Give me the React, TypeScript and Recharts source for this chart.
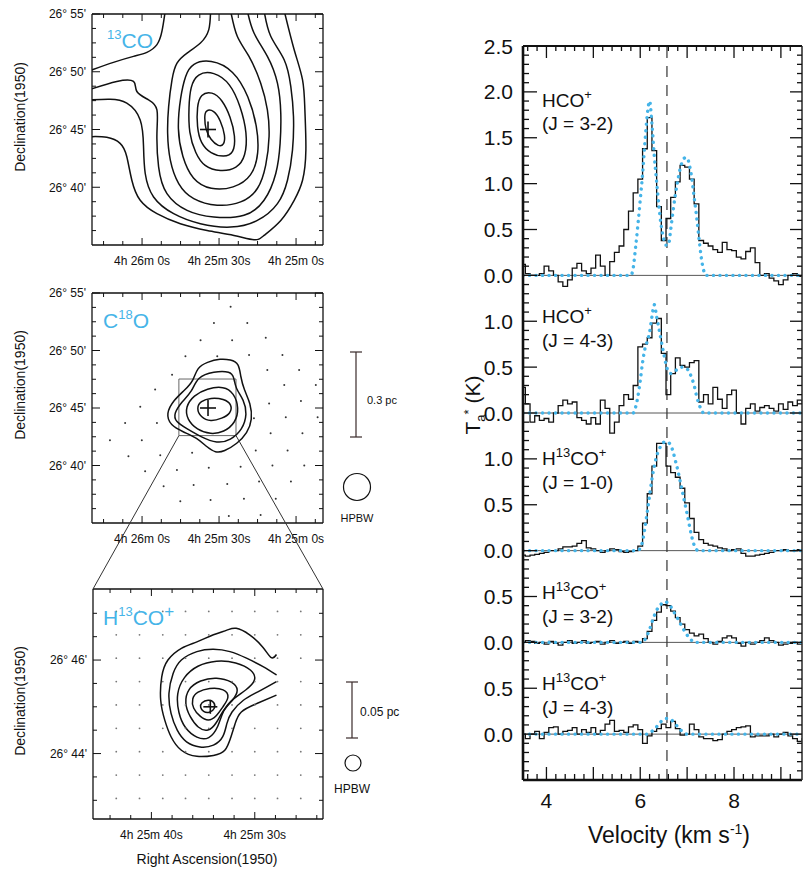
import React from 'react';
import { ComposedChart, Line, Scatter, XAxis, YAxis, ReferenceLine, ReferenceArea } from 'recharts';

const FONT = '"Liberation Sans", Arial, Helvetica, sans-serif';
const BLUE = '#45b4e8';
const INK = '#111';

// ================= SPECTRA (right panel) =================
const VEL = [3.5,3.6,3.7,3.8,3.9,4.0,4.1,4.2,4.3,4.4,4.5,4.6,4.7,4.8,4.9,5.0,5.1,5.2,5.3,5.4,5.5,5.6,5.7,5.8,5.9,6.0,6.1,6.2,6.3,6.4,6.5,6.6,6.7,6.8,6.9,7.0,7.1,7.2,7.3,7.4,7.5,7.6,7.7,7.8,7.9,8.0,8.1,8.2,8.3,8.4,8.5,8.6,8.7,8.8,8.9,9.0,9.1,9.2,9.3,9.4,9.5];

const HCO_32 = [0.12,0.02,0.0,0.0,0.02,0.10,0.05,0.0,-0.07,-0.12,
  -0.05,0.08,0.13,0.05,0.02,0.08,0.22,0.10,0.0,0.15,
  0.25,0.32,0.5,0.7,0.9,1.05,1.38,1.72,1.36,0.75,
  0.38,0.62,0.85,1.02,1.2,1.18,1.05,0.78,0.38,0.35,
  0.32,0.28,0.25,0.36,0.28,0.27,0.2,0.18,0.26,0.3,
  0.14,0.0,0.02,-0.03,-0.06,-0.1,-0.05,0.0,0.02,-0.01,
  0.0];
const HCO_43 = [0.28,0.1,-0.1,-0.03,-0.08,-0.06,-0.1,0.0,0.08,0.14,
  0.1,0.12,-0.05,-0.08,-0.12,-0.05,-0.12,0.14,0.05,-0.22,
  -0.1,0.08,0.2,0.15,0.3,0.72,0.75,0.82,0.98,1.03,
  0.65,0.2,0.43,0.6,0.52,0.5,0.55,0.57,0.12,0.2,
  0.1,0.28,0.15,0.05,0.2,0.25,0.0,-0.12,0.05,0.1,
  0.02,0.06,0.08,0.05,0.02,0.1,0.04,0.12,0.08,0.14,
  0.12];
const H13CO_10 = [-0.05,-0.06,-0.05,-0.04,-0.03,-0.02,0.0,0.0,0.02,0.04,
  0.04,0.05,0.08,0.11,0.03,0.02,0.0,-0.02,0.0,0.02,
  0.01,-0.01,-0.02,-0.01,0.0,0.05,0.3,0.62,0.92,1.17,
  1.17,0.92,0.85,0.8,0.68,0.52,0.35,0.2,0.12,0.08,
  0.06,0.05,0.03,0.02,0.0,0.01,0.02,-0.03,-0.06,-0.06,
  -0.05,-0.04,-0.03,-0.02,0.0,0.0,0.01,0.0,0.0,0.01,
  0.0];
const H13CO_32 = [0.0,0.02,0.01,-0.01,0.0,-0.02,0.01,-0.01,-0.03,0.0,
  0.02,-0.01,0.0,0.02,-0.01,0.0,0.01,-0.02,0.0,0.02,
  -0.01,0.0,0.01,-0.01,0.01,0.0,0.04,0.12,0.24,0.33,
  0.41,0.40,0.34,0.27,0.2,0.14,0.1,0.07,0.09,0.04,
  0.0,-0.02,0.01,0.05,0.07,0.05,-0.01,-0.04,0.0,-0.02,
  0.0,0.02,0.05,0.02,0.0,-0.03,-0.02,-0.01,0.0,-0.02,
  0.0];
const H13CO_43 = [0.0,-0.05,0.0,0.03,-0.05,0.02,0.07,0.08,0.0,0.03,
  0.04,0.07,0.0,0.05,0.02,0.07,0.0,0.04,0.11,0.15,
  0.03,0.04,0.02,0.08,0.1,0.05,-0.1,-0.02,0.03,0.06,
  0.11,0.07,0.14,0.06,-0.01,0.0,0.11,0.05,-0.03,-0.05,
  -0.05,-0.07,-0.06,0.0,0.03,0.05,0.07,0.08,0.09,-0.03,
  -0.02,-0.02,-0.02,0.0,-0.03,0.0,0.02,-0.02,-0.05,-0.08,
  -0.05];

const FIT_HCO_32: [number, number][] = [[3.5,0],[5.8,0],[5.85,0.08],[5.9,0.3],[5.95,0.55],[6.0,0.82],[6.05,1.1],[6.1,1.45],[6.15,1.75],[6.2,1.9],[6.25,1.65],[6.3,1.3],[6.35,1.02],[6.4,0.75],[6.45,0.53],[6.5,0.4],[6.55,0.33],[6.6,0.33],[6.65,0.5],[6.7,0.7],[6.75,0.88],[6.8,1.03],[6.85,1.16],[6.9,1.24],[6.95,1.28],[7.0,1.28],[7.05,1.2],[7.1,1.06],[7.15,0.85],[7.2,0.65],[7.25,0.42],[7.3,0.2],[7.35,0.06],[7.4,0],[9.5,0]];
const FIT_HCO_43: [number, number][] = [[3.5,0],[5.85,0],[5.9,0.06],[5.95,0.18],[6.0,0.35],[6.05,0.55],[6.1,0.7],[6.15,0.78],[6.2,0.88],[6.25,1.05],[6.3,1.18],[6.35,1.05],[6.4,0.92],[6.45,0.78],[6.5,0.65],[6.55,0.53],[6.6,0.45],[6.65,0.43],[6.7,0.44],[6.8,0.48],[6.9,0.5],[7.0,0.48],[7.1,0.38],[7.15,0.3],[7.2,0.19],[7.25,0.1],[7.3,0.04],[7.35,0],[9.5,0]];
const FIT_H13CO_10: [number, number][] = [[3.5,0],[5.95,0],[6.0,0.03],[6.05,0.1],[6.1,0.25],[6.15,0.42],[6.2,0.6],[6.25,0.78],[6.3,0.92],[6.35,1.03],[6.4,1.1],[6.45,1.15],[6.5,1.18],[6.55,1.19],[6.6,1.18],[6.65,1.15],[6.7,1.08],[6.75,0.98],[6.8,0.88],[6.85,0.76],[6.9,0.64],[6.95,0.52],[7.0,0.4],[7.05,0.27],[7.1,0.15],[7.15,0.06],[7.2,0.01],[7.25,0],[9.5,0]];
const FIT_H13CO_32: [number, number][] = [[3.5,0],[6.05,0],[6.1,0.03],[6.15,0.08],[6.2,0.14],[6.25,0.22],[6.3,0.29],[6.35,0.35],[6.4,0.39],[6.45,0.42],[6.5,0.44],[6.55,0.44],[6.6,0.42],[6.65,0.39],[6.7,0.35],[6.75,0.3],[6.8,0.26],[6.85,0.21],[6.9,0.16],[6.95,0.12],[7.0,0.08],[7.05,0.05],[7.1,0.02],[7.15,0],[9.5,0]];
const FIT_H13CO_43: [number, number][] = [[3.5,0],[6.15,0],[6.2,0.01],[6.25,0.03],[6.3,0.05],[6.35,0.08],[6.4,0.11],[6.45,0.14],[6.5,0.16],[6.55,0.17],[6.6,0.17],[6.65,0.16],[6.7,0.14],[6.75,0.11],[6.8,0.08],[6.85,0.05],[6.9,0.03],[6.95,0.01],[7.0,0],[9.5,0]];

const SPECTRA = [HCO_32, HCO_43, H13CO_10, H13CO_32, H13CO_43];
const FITS = [FIT_HCO_32, FIT_HCO_43, FIT_H13CO_10, FIT_H13CO_32, FIT_H13CO_43];
const SPEC_OFFSETS = [5, 3.5, 2, 1, 0];
const V_SYS = 6.57;
const V_LABELED = [4, 6, 8];
const V_MAJOR = [4, 5, 6, 7, 8, 9];

// ================= MAPS (left panels) =================
type P = [number, number];
// 13CO  (x: RA seconds after 4h25m, y: Dec arcmin after 26deg)
const CO13_CLOSED: P[][] = [
  [[35.3,46.7],[32.0,46.7],[29.4,45.8],[27.5,44.4],[28.1,43.65],[30.1,43.5],[33.3,44.1],[35.3,45.0],[35.7,46.1]],
  [[37.2,48.1],[32.7,48.3],[28.8,47.6],[25.5,46.1],[23.6,44.4],[24.2,42.9],[28.1,42.6],[33.3,42.9],[37.2,43.8],[38.6,45.2],[38.6,47.0]],
  [[38.55,49.88],[32.03,50.03],[25.51,49.01],[21.6,46.99],[18.99,44.67],[19.64,42.64],[22.9,41.62],[29.42,41.33],[35.94,41.77],[39.2,42.93],[41.81,44.67],[41.81,46.99],[41.16,48.72]],
  [[40.51,50.75],[33.33,51.1],[24.21,50.17],[18.34,47.86],[15.08,45.25],[14.42,42.93],[17.03,40.9],[24.21,39.89],[33.33,39.74],[40.51,40.61],[44.42,42.64],[46.38,44.96],[45.07,47.86],[43.11,49.74]],
];
const CO13_OPEN: P[][] = [
  [[33.3,55.3],[34.0,53.65],[37.25,52.49],[42.46,51.62],[46.38,50.75],[48.33,49.3],[49.64,46.98],[50.03,44.67],[48.98,42.35],[45.72,40.32],[39.85,39.02],[30.73,38.45],[21.6,38.73],[15.08,39.89],[11.82,41.92],[10.51,44.39],[11.17,46.7],[13.77,49.01],[18.34,51.33],[22.9,53.07],[25.51,55.3]],
  [[19.0,55.3],[16.38,53.36],[11.17,51.33],[7.25,49.01],[5.95,46.41],[6.21,43.8],[7.9,41.19],[12.47,38.87],[20.29,37.57],[32.03,37.42],[42.46,38.0],[50.29,39.45],[53.55,41.77],[54.2,44.67],[54.2,46.7],[57.46,47.57],[62.02,48.29],[63.33,49.16],[69.85,49.16],[80.0,48.49]],
  [[12.47,55.3],[9.86,53.07],[4.64,51.04],[2.04,48.72],[1.0,46.12],[1.39,43.22],[3.34,40.61],[7.25,38.58],[15.08,37.13],[25.51,36.55],[37.25,36.84],[47.68,37.71],[55.5,39.16],[58.76,41.19],[59.42,43.51],[60.72,45.83],[65.94,47.28],[72.46,47.62],[80.0,47.57]],
  [[4.64,55.3],[0.73,51.91],[-2.53,49.3],[-3.44,46.7],[-3.83,43.22],[-2.53,40.61],[0.73,38.87],[5.95,37.13],[12.47,35.83],[16.38,35.45],[24.21,35.83],[34.64,36.26],[45.07,36.84],[54.2,37.71],[60.72,38.87],[63.98,40.61],[65.94,42.64],[68.55,43.8],[73.76,44.32],[80.0,44.38]],
  [[80.0,50.12],[71.15,50.81],[63.33,51.33],[58.11,51.68],[54.2,52.35],[52.24,53.51],[50.94,55.3]],
];
// C18O
const C18O_CLOSED: P[][] = [
  [[50.7,44.5],[47.7,45.7],[43.1,46.6],[39.9,47.4],[38.6,48.5],[34.7,49.0],[29.4,49.3],[25.5,49.2],[22.2,48.9],[21.6,47.7],[20.3,46.6],[17.7,45.4],[17.0,44.0],[19.0,42.8],[22.9,41.9],[28.1,41.2],[31.4,41.1],[34.7,41.6],[38.6,42.4],[43.8,42.9],[49.0,43.5]],
  [[47.7,44.5],[44.4,45.6],[40.5,46.4],[38.6,47.7],[32.0,48.2],[25.5,48.2],[24.2,47.7],[23.6,46.7],[20.3,45.7],[19.0,44.5],[20.9,43.1],[25.5,42.2],[30.7,41.9],[37.2,42.5],[42.5,43.2],[47.0,43.8]],
  [[43.1,45.1],[39.9,46.1],[34.7,46.7],[28.1,46.9],[24.2,46.3],[22.2,45.0],[23.6,43.7],[28.1,42.9],[33.3,42.7],[38.6,43.1],[42.5,44.0]],
  [[38.8,45.0],[37.2,45.6],[33.3,45.9],[28.1,45.8],[24.9,45.3],[25.5,44.5],[28.8,44.1],[33.3,43.8],[37.2,44.2]],
];
const C18O_POSITIONS: P[] = [[25.5,53.8],[32.0,52.4],[19.0,52.4],[37.2,50.9],[24.9,50.9],[11.8,51.1],[43.1,49.5],[30.7,49.5],[18.3,49.6],[5.3,49.6],[48.3,47.9],[11.2,48.3],[-1.2,48.3],[54.9,46.6],[4.6,47.0],[-7.7,47.0],[60.7,45.1],[10.5,45.4],[-1.9,45.6],[66.6,43.7],[54.2,43.7],[16.4,44.1],[4.0,44.2],[-8.4,44.2],[72.5,42.2],[60.1,42.2],[9.9,42.8],[-2.5,42.8],[65.3,40.8],[52.9,40.9],[40.5,41.1],[15.7,41.3],[3.3,41.3],[58.8,39.5],[46.4,39.6],[34.0,39.8],[21.6,39.9],[9.2,40.0],[-3.2,40.0],[51.6,38.2],[39.9,38.3],[26.8,38.4],[14.4,38.6],[2.0,38.6],[45.1,36.9],[33.3,37.0],[20.3,37.1],[7.9,37.1],[26.2,35.6],[13.8,35.7]];
// H13CO+
const H13_CLOSED: P[][] = [
  [[35.6,45.89],[33.7,46.0],[31.8,45.96],[30.2,45.79],[29.8,45.57],[30.8,45.36],[32.1,45.18],[33.1,44.93],[33.5,44.57],[34.4,44.29],[35.6,44.32],[36.8,44.54],[37.4,44.86],[37.6,45.29],[36.9,45.64]],
  [[35.3,45.57],[33.7,45.64],[32.1,45.54],[31.5,45.36],[32.1,45.14],[33.1,44.93],[33.7,44.64],[34.5,44.46],[35.5,44.54],[36.3,44.79],[36.8,45.07],[36.5,45.39]],
  [[35.6,45.32],[34.4,45.41],[32.9,45.39],[32.4,45.21],[33.1,45.0],[33.7,44.79],[34.5,44.68],[35.3,44.79],[36.0,44.96],[36.1,45.18]],
  [[35.2,45.09],[34.5,45.16],[33.9,45.11],[33.8,44.96],[34.4,44.86],[35.0,44.89],[35.3,44.99]],
];
const H13_OPEN: P[][] = [
  [[27.9,46.12],[28.4,46.05],[29.2,46.27],[30.5,46.54],[31.8,46.68],[32.7,46.64],[34.0,46.54],[35.6,46.39],[37.1,46.25],[38.4,46.0],[39.0,45.64],[39.1,45.14],[38.7,44.71],[38.1,44.36],[37.1,44.07],[35.6,43.94],[34.0,43.96],[32.9,44.07],[32.3,44.36],[31.9,44.64],[31.3,44.89],[29.8,45.07],[27.9,45.25]],
  [[27.9,45.68],[29.2,45.86],[30.8,46.04],[32.4,46.18],[34.0,46.23],[35.6,46.18],[37.1,46.0],[37.9,45.71],[38.3,45.29],[38.1,44.86],[37.5,44.5],[36.6,44.25],[35.3,44.14],[34.0,44.18],[33.1,44.36],[32.7,44.64],[32.2,44.89],[31.1,45.14],[29.7,45.32],[27.9,45.54]],
];
const H13_GRID_RA = [43.4, 41.15, 38.9, 36.7, 34.45, 32.2, 30.0, 27.8, 25.55];
const H13_GRID_DEC = [47.04, 46.54, 46.04, 45.54, 45.04, 44.54, 44.04, 43.54, 43.04];
const PEAK: P = [34.3, 45.0];

// ================= helpers =================
type Side = 'bottom' | 'top' | 'left' | 'right';
function makeTick(side: Side, majors: number[], majorLen: number, minorLen: number,
  fmt: (v: number) => string, fontSize: number, gap: number, lw = 1) {
  return function TickMark(props: any) {
    const { x, y, payload } = props;
    const v = Number(payload?.value);
    const isMajor = majors.some((m) => Math.abs(m - v) < 1e-6);
    const len = isMajor ? majorLen : minorLen;
    const label = isMajor ? fmt(v) : '';
    let x2 = x, y2 = y;
    if (side === 'bottom') y2 = y - len;
    if (side === 'top') y2 = y + len;
    if (side === 'left') x2 = x + len;
    if (side === 'right') x2 = x - len;
    let text: any = null;
    if (label && side === 'bottom') {
      text = <text x={x} y={y + gap} textAnchor="middle" fontSize={fontSize} fontFamily={FONT} fill={INK}>{label}</text>;
    }
    if (label && side === 'left') {
      text = <text x={x - gap} y={y + fontSize * 0.36} textAnchor="end" fontSize={fontSize} fontFamily={FONT} fill={INK}>{label}</text>;
    }
    return <g><line x1={x} y1={y} x2={x2} y2={y2} stroke={INK} strokeWidth={lw} />{text}</g>;
  };
}
const none = () => '';
const toPts = (a: P[]) => a.map(([x, y]) => ({ x, y }));
const raFmt = (s: number) => `4h ${25 + Math.floor(s / 60)}m ${((s % 60) + 60) % 60}s`;
const decFmt = (d: number) => `26\u00b0 ${d}'`;

function MapPanel(props: any) {
  const { top, height, margin, xDomain, yDomain, xTicks, xMajors, yTicks, yMajors,
    closed, open, dots, dotColor, dotR, crossArm, rect } = props;
  const common = { tickLine: false, tickSize: 0, tickMargin: 0, interval: 0 as const, allowDataOverflow: true };
  const frame = { stroke: INK, strokeWidth: 1.3 };
  return (
    <div style={{ position: 'absolute', left: 0, top, width: 340, height }}>
      <ComposedChart width={340} height={height} margin={margin}>
        <XAxis xAxisId="b" orientation="bottom" type="number" dataKey="x" domain={xDomain} reversed ticks={xTicks}
          tick={makeTick('bottom', xMajors, 7, 4, raFmt, 12, 20)} height={1} axisLine={frame} {...common} />
        <XAxis xAxisId="t" orientation="top" type="number" dataKey="x" domain={xDomain} reversed ticks={xTicks}
          tick={makeTick('top', xMajors, 7, 4, none, 12, 0)} height={1} axisLine={frame} {...common} />
        <YAxis yAxisId="l" orientation="left" type="number" dataKey="y" domain={yDomain} ticks={yTicks}
          tick={makeTick('left', yMajors, 8, 4, decFmt, 12, 6)} width={1} axisLine={frame} {...common} />
        <YAxis yAxisId="r" orientation="right" type="number" dataKey="y" domain={yDomain} ticks={yTicks}
          tick={makeTick('right', yMajors, 8, 4, none, 12, 0)} width={1} axisLine={frame} {...common} />
        {dots && (
          <Scatter xAxisId="b" yAxisId="l" data={dots} isAnimationActive={false}
            shape={(p: any) => <circle cx={p.cx} cy={p.cy} r={dotR} fill={dotColor} />} />
        )}
        {rect && (
          <ReferenceArea xAxisId="b" yAxisId="l" x1={rect[0]} x2={rect[1]} y1={rect[2]} y2={rect[3]}
            fill="none" fillOpacity={0} stroke="#666" strokeWidth={1} ifOverflow="visible" />
        )}
        {closed.map((c: P[], i: number) => (
          <Line key={'c' + i} xAxisId="b" yAxisId="l" data={toPts(c)} dataKey="y" type="basisClosed"
            stroke={INK} strokeWidth={1.5} dot={false} activeDot={false} isAnimationActive={false} />
        ))}
        {open.map((c: P[], i: number) => (
          <Line key={'o' + i} xAxisId="b" yAxisId="l" data={toPts(c)} dataKey="y" type="natural"
            stroke={INK} strokeWidth={1.5} dot={false} activeDot={false} isAnimationActive={false} />
        ))}
        <Scatter xAxisId="b" yAxisId="l" data={[{ x: PEAK[0], y: PEAK[1] }]} isAnimationActive={false}
          shape={(p: any) => (
            <g stroke={INK} strokeWidth={1.6}>
              <line x1={p.cx - crossArm} y1={p.cy} x2={p.cx + crossArm} y2={p.cy} />
              <line x1={p.cx} y1={p.cy - crossArm} x2={p.cx} y2={p.cy + crossArm} />
            </g>
          )} />
      </ComposedChart>
    </div>
  );
}

function SpectraPanel() {
  const vTicks: number[] = [];
  for (let i = 0; i <= 28; i++) vTicks.push(Math.round((3.6 + i * 0.2) * 10) / 10);
  const tTicks: number[] = [];
  for (let i = 0; i <= 79; i++) tTicks.push(Math.round((-0.4 + i * 0.1) * 10) / 10);
  const tMajors: number[] = [];
  for (let i = 0; i <= 15; i++) tMajors.push(i * 0.5);
  const localT = (g: number) => {
    const off = Math.max(...SPEC_OFFSETS.filter((o) => o <= g + 1e-9));
    return (g - off).toFixed(1);
  };
  const vFmt = (v: number) => (V_LABELED.includes(v) ? String(v) : '');
  const common = { tickLine: false, tickSize: 0, tickMargin: 0, interval: 0 as const, allowDataOverflow: true };
  return (
    <div style={{ position: 'absolute', left: 440, top: 0, width: 380, height: 869 }}>
      <ComposedChart width={380} height={869} margin={{ top: 45, right: 17, bottom: 88, left: 82 }}>
        <XAxis xAxisId="b" orientation="bottom" type="number" dataKey="v" domain={[3.5, 9.45]} ticks={vTicks}
          tick={makeTick('bottom', V_MAJOR, 13, 6, vFmt, 21, 28, 1.3)} height={1}
          axisLine={{ stroke: INK, strokeWidth: 2.6 }} {...common} />
        <XAxis xAxisId="t" orientation="top" type="number" dataKey="v" domain={[3.5, 9.45]} ticks={vTicks}
          tick={makeTick('top', V_MAJOR, 12, 5, none, 21, 0, 1.3)} height={1}
          axisLine={{ stroke: INK, strokeWidth: 2 }} {...common} />
        <YAxis yAxisId="l" orientation="left" type="number" domain={[-0.5, 7.5]} ticks={tTicks}
          tick={makeTick('left', tMajors, 14, 6, localT, 21, 10, 1.3)} width={1}
          axisLine={{ stroke: INK, strokeWidth: 2.6 }} {...common} />
        <YAxis yAxisId="r" orientation="right" type="number" domain={[-0.5, 7.5]} ticks={tTicks}
          tick={makeTick('right', tMajors, 12, 5, none, 21, 0, 1.3)} width={1}
          axisLine={{ stroke: '#333', strokeWidth: 1.6 }} {...common} />
        {SPEC_OFFSETS.map((o) => (
          <ReferenceLine key={'z' + o} xAxisId="b" yAxisId="l" y={o} stroke="#444" strokeWidth={0.9} />
        ))}
        <ReferenceLine xAxisId="b" yAxisId="l" x={V_SYS} stroke="#333" strokeWidth={1.2} strokeDasharray="11 8" />
        {SPECTRA.map((s, k) => (
          <Line key={'s' + k} xAxisId="b" yAxisId="l" data={VEL.map((v, i) => ({ v, t: s[i] + SPEC_OFFSETS[k] }))}
            dataKey="t" type="step" stroke={INK} strokeWidth={1.3} dot={false} activeDot={false} isAnimationActive={false} />
        ))}
        {FITS.map((f, k) => (
          <Line key={'f' + k} xAxisId="b" yAxisId="l" data={f.map(([v, t]) => ({ v, t: t + SPEC_OFFSETS[k] }))}
            dataKey="t" type="monotone" stroke={BLUE} strokeWidth={3.4} strokeLinecap="round" strokeDasharray="0.1 6.4"
            dot={false} activeDot={false} isAnimationActive={false} />
        ))}
      </ComposedChart>
    </div>
  );
}

const SPEC_LABELS = [
  { main: 'HCO', iso: '', trans: '(J = 3-2)', y1: 107, y2: 130 },
  { main: 'HCO', iso: '', trans: '(J = 4-3)', y1: 323, y2: 347 },
  { main: 'CO', iso: '13', trans: '(J = 1-0)', y1: 465, y2: 489 },
  { main: 'CO', iso: '13', trans: '(J = 3-2)', y1: 599, y2: 623 },
  { main: 'CO', iso: '13', trans: '(J = 4-3)', y1: 690, y2: 714 },
];

function Overlay() {
  const t = { fontFamily: FONT, fill: INK };
  return (
    <svg width={803} height={869} style={{ position: 'absolute', left: 0, top: 0, pointerEvents: 'none' }}>
      {/* zoom connectors */}
      <line x1={178.9} y1={435.6} x2={93} y2={589} stroke="#333" strokeWidth={1} />
      <line x1={236} y1={435.6} x2={323} y2={589} stroke="#333" strokeWidth={1} />
      {/* panel names */}
      <text x={107} y={48} fontSize={21} fontFamily={FONT} fill={BLUE}>
        <tspan fontSize={13} dy={-9}>13</tspan><tspan dy={9}>CO</tspan>
      </text>
      <text x={103} y={328} fontSize={21} fontFamily={FONT} fill={BLUE}>
        C<tspan fontSize={13} dy={-9}>18</tspan><tspan dy={9}>O</tspan>
      </text>
      <text x={103} y={625} fontSize={21} fontFamily={FONT} fill={BLUE}>
        H<tspan fontSize={13} dy={-9}>13</tspan><tspan dy={9}>CO</tspan><tspan fontSize={17} dy={-8}>+</tspan>
      </text>
      {/* axis titles of maps */}
      {[117, 385, 701].map((cy) => (
        <text key={cy} x={25} y={cy} fontSize={14} textAnchor="middle" transform={`rotate(-90 25 ${cy})`} {...t}>
          Declination(1950)
        </text>
      ))}
      <text x={207} y={864} fontSize={14} textAnchor="middle" {...t}>Right Ascension(1950)</text>
      {/* scale bars and beams */}
      <g stroke="#3a2a2a" strokeWidth={1.2}>
        <line x1={356} y1={352} x2={356} y2={437} />
        <line x1={350} y1={352} x2={362} y2={352} />
        <line x1={350} y1={437} x2={362} y2={437} />
        <line x1={352} y1={682} x2={352} y2={738} />
        <line x1={346} y1={682} x2={358} y2={682} />
        <line x1={346} y1={738} x2={358} y2={738} />
      </g>
      <text x={367} y={404} fontSize={11} {...t}>0.3 pc</text>
      <circle cx={357} cy={487} r={13.5} fill="none" stroke={INK} strokeWidth={1.2} />
      <text x={357} y={522} fontSize={11} textAnchor="middle" {...t}>HPBW</text>
      <text x={360} y={716} fontSize={12} {...t}>0.05 pc</text>
      <circle cx={353} cy={763} r={8} fill="none" stroke={INK} strokeWidth={1.2} />
      <text x={352} y={793} fontSize={12} textAnchor="middle" {...t}>HPBW</text>
      {/* spectra labels */}
      {SPEC_LABELS.map((l, i) => (
        <g key={i}>
          <text x={542} y={l.y1} fontSize={19} {...t}>
            {l.iso ? (<>H<tspan fontSize={13} dy={-8}>{l.iso}</tspan><tspan dy={8}>{l.main}</tspan></>) : l.main}
            <tspan fontSize={13} dy={-8}>+</tspan>
          </text>
          <text x={542} y={l.y2} fontSize={19} {...t}>{l.trans}</text>
        </g>
      ))}
      <text x={480} y={405} fontSize={21} textAnchor="middle" transform="rotate(-90 480 405)" {...t}>
        T<tspan fontSize={13} dy={5}>a</tspan><tspan fontSize={13} dy={-12}>*</tspan><tspan dy={7}> (K)</tspan>
      </text>
      <text x={669} y={843} fontSize={23} textAnchor="middle" {...t}>
        Velocity (km s<tspan fontSize={14} dy={-9}>-1</tspan><tspan dy={9}>)</tspan>
      </text>
    </svg>
  );
}

export default function App() {
  const mapXTicks = [75, 67.5, 60, 52.5, 45, 37.5, 30, 22.5, 15, 7.5, 0, -7.5];
  const mapYTicks = [36.25, 37.5, 38.75, 40, 41.25, 42.5, 43.75, 45, 46.25, 47.5, 48.75, 50, 51.25, 52.5, 53.75, 55];
  const h13Dots = H13_GRID_DEC.flatMap((d) => H13_GRID_RA.map((r) => ({ x: r, y: d })));
  return (
    <div style={{ position: 'absolute', left: 0, top: 0, width: 803, height: 869, overflow: 'hidden', background: '#fff', fontFamily: FONT }}>
      <MapPanel top={0} height={280} margin={{ top: 13, right: 16, bottom: 34, left: 91 }}
        xDomain={[-10.5, 79.5]} yDomain={[35, 55]} xTicks={mapXTicks} xMajors={[60, 30, 0]}
        yTicks={mapYTicks} yMajors={[40, 45, 50, 55]} closed={CO13_CLOSED} open={CO13_OPEN}
        dots={null} crossArm={8} />
      <MapPanel top={280} height={280} margin={{ top: 12, right: 16, bottom: 36, left: 91 }}
        xDomain={[-10.5, 79.5]} yDomain={[35, 55]} xTicks={mapXTicks} xMajors={[60, 30, 0]}
        yTicks={mapYTicks} yMajors={[40, 45, 50, 55]} closed={C18O_CLOSED} open={[]}
        dots={toPts(C18O_POSITIONS)} dotColor="#333" dotR={1} crossArm={8} rect={[45.65, 23.4, 42.6, 47.52]} />
      <MapPanel top={560} height={309} margin={{ top: 28, right: 16, bottom: 49, left: 92 }}
        xDomain={[23.4, 45.65]} yDomain={[42.6, 47.52]} xTicks={[44, 42, 40, 38, 36, 34, 32, 30, 28, 26, 24]} xMajors={[40, 30]}
        yTicks={[43, 43.5, 44, 44.5, 45, 45.5, 46, 46.5, 47]} yMajors={[44, 46]} closed={H13_CLOSED} open={H13_OPEN}
        dots={h13Dots} dotColor="#777" dotR={0.9} crossArm={7} />
      <SpectraPanel />
      <Overlay />
    </div>
  );
}
